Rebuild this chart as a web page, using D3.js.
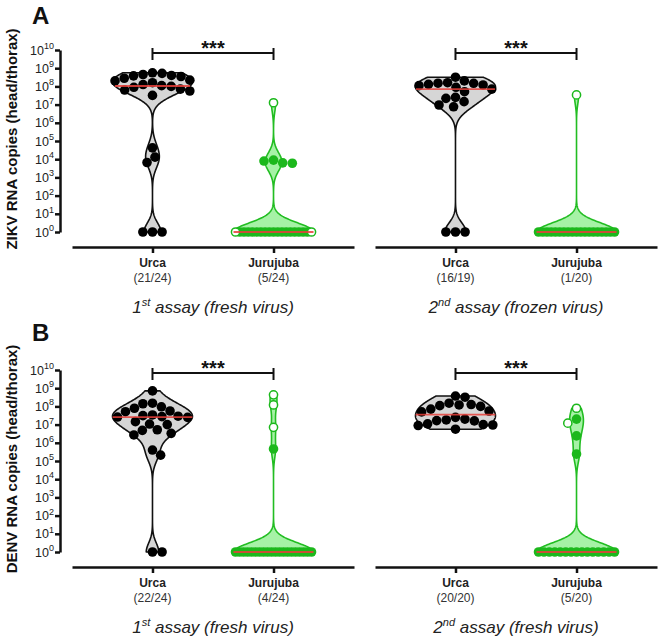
<!DOCTYPE html>
<html><head><meta charset="utf-8">
<script src="https://cdn.jsdelivr.net/npm/d3@7"></script>
<style>body{margin:0;background:#fff;} svg{display:block;font-family:"Liberation Sans",Arial,sans-serif;}</style>
</head><body><svg id="c" width="660" height="640"></svg>
<script>
// ---------- DATA ----------
const categories = ["Urca", "Jurujuba"];
const panelLetters = ["A", "B"];
const yTitles = ["ZIKV RNA copies (head/thorax)", "DENV RNA copies (head/thorax)"];
const assayOrdinals = [["1", "st"], ["2", "nd"], ["1", "st"], ["2", "nd"]];
const assayTexts = [" assay (fresh virus)", " assay (frozen virus)", " assay (fresh virus)", " assay (fresh virus)"];
const positiveCounts = [["(21/24)", "(5/24)"], ["(16/19)", "(1/20)"], ["(22/24)", "(4/24)"], ["(20/20)", "(5/20)"]];
const tickValues = [1, 1e1, 1e2, 1e3, 1e4, 1e5, 1e6, 1e7, 1e8, 1e9, 1e10];
const tickExponents = [0, 1, 2, 3, 4, 5, 6, 7, 8, 9, 10];
const significance = ["***", "***", "***", "***"];

// ZIKV, 1st assay (fresh virus)
const zikvFreshUrcaFilled = [5.6e8, 5.2e8, 4.5e8, 4.0e8, 3.8e8, 3.5e8, 2.8e8, 2.2e8, 2.0e8, 1.6e8, 1.26e8, 1.1e8, 1.0e8, 8.9e7, 7.1e7, 6.3e7, 5.6e7, 3.2e7, 4.2e4, 1.3e4, 6.6e3, 1, 1, 1];
const zikvFreshUrcaOpen = [];
const zikvFreshJuruFilled = [8.9e3, 7.9e3, 6.3e3, 6.0e3, 1, 1, 1, 1, 1, 1, 1, 1, 1, 1, 1, 1, 1, 1, 1, 1, 1];
const zikvFreshJuruOpen = [1.26e7, 1, 1];
// ZIKV, 2nd assay (frozen virus)
const zikvFrozenUrcaFilled = [3.2e8, 2.0e8, 1.6e8, 1.5e8, 1.48e8, 1.3e8, 1.2e8, 1.1e8, 8.9e7, 7.1e7, 5.1e7, 2.5e7, 2.2e7, 1.45e7, 9.5e6, 7.6e6, 1, 1, 1];
const zikvFrozenUrcaOpen = [];
const zikvFrozenJuruFilled = [1, 1, 1, 1, 1, 1, 1, 1, 1, 1, 1, 1, 1, 1, 1, 1, 1, 1, 1];
const zikvFrozenJuruOpen = [3.4e7];
// DENV, 1st assay (fresh virus)
const denvFresh1UrcaFilled = [7.1e8, 1.5e8, 1.4e8, 9.5e7, 7.9e7, 5.6e7, 5.1e7, 3.4e7, 3.1e7, 2.9e7, 2.75e7, 2.6e7, 2.5e7, 1.45e7, 1.07e7, 1.0e7, 5.2e6, 4.8e6, 3.3e6, 2.7e6, 4.0e5, 2.1e5, 1, 1];
const denvFresh1UrcaOpen = [];
const denvFresh1JuruFilled = [4.6e5, 1, 1, 1, 1, 1, 1, 1, 1, 1, 1, 1, 1, 1, 1, 1, 1, 1, 1, 1, 1];
const denvFresh1JuruOpen = [4.3e8, 1.2e8, 7.1e6];
// DENV, 2nd assay (fresh virus)
const denvFresh2UrcaFilled = [3.7e8, 3.2e8, 1.5e8, 1.26e8, 1.2e8, 1.1e8, 1.0e8, 7.1e7, 5.6e7, 5.0e7, 2.5e7, 2.0e7, 1.8e7, 1.66e7, 1.6e7, 1.1e7, 1.0e7, 9.5e6, 8.9e6, 5.6e6];
const denvFresh2UrcaOpen = [];
const denvFresh2JuruFilled = [2.0e7, 2.4e6, 2.4e5, 1, 1, 1, 1, 1, 1, 1, 1, 1, 1, 1, 1, 1, 1, 1];
const denvFresh2JuruOpen = [7.9e7, 1.2e7];

const panels = [
  [[zikvFreshUrcaFilled, zikvFreshUrcaOpen], [zikvFreshJuruFilled, zikvFreshJuruOpen]],
  [[zikvFrozenUrcaFilled, zikvFrozenUrcaOpen], [zikvFrozenJuruFilled, zikvFrozenJuruOpen]],
  [[denvFresh1UrcaFilled, denvFresh1UrcaOpen], [denvFresh1JuruFilled, denvFresh1JuruOpen]],
  [[denvFresh2UrcaFilled, denvFresh2UrcaOpen], [denvFresh2JuruFilled, denvFresh2JuruOpen]]
];

// ---------- STYLE / LAYOUT ----------
const svg = d3.select("#c");
const colStarts = [72, 375];
const rowTops = [50, 370];     // y of 10^10
const rowBottoms = [232, 552]; // y of 10^0
const rowAxis = [247, 567];
const titleCenters = [139, 459];
const styles = [
  { fill: "#d6d6d6", stroke: "#111", dot: "#000" },
  { fill: "#a6f2a6", stroke: "#22bd22", dot: "#1cb81c" }
];
const R = 4.8, HALF = 40, BW = 0.5;

function swarm(points, r) {
  const placed = [];
  points.sort((a, b) => a.y - b.y);
  let flip = -1;
  for (const p of points) {
    const cands = [0];
    for (const q of placed) {
      const dy = Math.abs(p.y - q.y);
      if (dy < 2 * r) {
        const dx = Math.sqrt(4 * r * r - dy * dy);
        cands.push(q.dx + dx, q.dx - dx);
      }
    }
    cands.sort((a, b) => Math.abs(a) - Math.abs(b) || (flip * (b - a)));
    flip = -flip;
    for (const c of cands) {
      if (placed.every(q => (c - q.dx) ** 2 + (p.y - q.y) ** 2 >= 4 * r * r - 0.5)) {
        p.dx = c; placed.push(p); break;
      }
    }
  }
  return placed;
}

panels.forEach((groups, pi) => {
  const row = Math.floor(pi / 2), col = pi % 2;
  const y = d3.scaleLog().domain([1, 1e10]).range([rowBottoms[row], rowTops[row]]);
  const x = d3.scalePoint().domain(categories).range([colStarts[col], colStarts[col] + 282]).padding(0.665);
  const g = svg.append("g");

  // x axis
  const xa = g.append("g").attr("transform", `translate(0,${rowAxis[row]})`)
    .call(d3.axisBottom(x).tickSize(6).tickSizeOuter(0).tickFormat(""));
  xa.selectAll("path,line").attr("stroke", "#111").attr("stroke-width", 2.5);

  // category labels
  categories.forEach((c, ci) => {
    g.append("text").attr("x", x(c)).attr("y", rowAxis[row] + 20).attr("text-anchor", "middle")
      .attr("font-size", 12).attr("font-weight", "bold").attr("fill", "#222").text(c);
    g.append("text").attr("x", x(c)).attr("y", rowAxis[row] + 35).attr("text-anchor", "middle")
      .attr("font-size", 12).attr("fill", "#333").text(positiveCounts[pi][ci]);
  });
  // assay label
  const mid = (x(categories[0]) + x(categories[1])) / 2;
  const at = g.append("text").attr("x", mid).attr("y", rowAxis[row] + 66).attr("text-anchor", "middle")
    .attr("font-size", 17).attr("font-style", "italic").attr("fill", "#222");
  at.append("tspan").text(assayOrdinals[pi][0]);
  at.append("tspan").attr("font-size", 11).attr("dy", -7).text(assayOrdinals[pi][1]);
  at.append("tspan").attr("dy", 7).text(assayTexts[pi]);

  // y axis (only left column)
  if (col === 0) {
    const ya = g.append("g").attr("transform", "translate(60,0)")
      .call(d3.axisLeft(y).tickValues(tickValues).tickSize(5).tickSizeOuter(0).tickFormat(""));
    ya.selectAll("path,line").attr("stroke", "#111").attr("stroke-width", 2.5);
    tickValues.forEach((v, i) => {
      const t = g.append("text").attr("x", 54).attr("y", y(v) + 4.5).attr("text-anchor", "end")
        .attr("font-size", 12.5).attr("fill", "#222");
      t.append("tspan").text("10");
      t.append("tspan").attr("font-size", 9).attr("dy", -5.5).text(tickExponents[i]);
    });
    g.append("text").attr("transform", `translate(17,${titleCenters[row]}) rotate(-90)`).attr("text-anchor", "middle")
      .attr("font-size", 15).attr("font-weight", "bold").attr("fill", "#111").text(yTitles[row]);
    g.append("text").attr("x", 32).attr("y", row === 0 ? 24 : 341).attr("font-size", 24)
      .attr("font-weight", "bold").attr("fill", "#111").text(panelLetters[row]);
  }

  // significance bar
  const sy = rowTops[row] + 3;
  const sg = g.append("g").attr("stroke", "#111").attr("stroke-width", 2);
  sg.append("line").attr("x1", x(categories[0])).attr("x2", x(categories[1])).attr("y1", sy).attr("y2", sy);
  categories.forEach(c => sg.append("line").attr("x1", x(c)).attr("x2", x(c)).attr("y1", sy - 5).attr("y2", sy + 7));
  g.append("text").attr("x", mid).attr("y", sy + 2).attr("text-anchor", "middle").attr("font-size", 20)
    .attr("font-weight", "bold").attr("fill", "#111").text(significance[pi]);

  // violins + points
  groups.forEach(([filled, open], ci) => {
    const st = styles[ci];
    const cx = x(categories[ci]);
    const all = filled.concat(open);
    const logs = all.map(v => Math.log10(v));
    const lo = d3.min(logs), hi = d3.max(logs);
    const n = 240;
    const grid = d3.range(n + 1).map(i => lo + (hi - lo) * i / n);
    const dens = grid.map(gv => d3.sum(logs, l => Math.exp(-0.5 * ((gv - l) / BW) ** 2)));
    const dmax = d3.max(dens);
    const pts = grid.map((gv, i) => ({ v: gv, w: dens[i] / dmax * HALF }));
    const area = d3.area().y(d => y(Math.pow(10, d.v))).x0(d => cx - d.w).x1(d => cx + d.w);
    g.append("path").datum(pts).attr("d", area).attr("fill", st.fill).attr("stroke", st.stroke)
      .attr("stroke-width", 1.6).attr("stroke-linejoin", "round");

    // points
    const items = filled.map(v => ({ v, open: false })).concat(open.map(v => ({ v, open: true })));
    items.forEach(d => d.y = y(d.v));
    const counts = d3.rollup(items, a => a.length, d => d.v);
    const rowItems = items.filter(d => counts.get(d.v) >= 6);
    const swarmItems = items.filter(d => counts.get(d.v) < 6);
    swarm(swarmItems, R);
    d3.group(rowItems, d => d.v).forEach(arr => {
      const op = arr.filter(d => d.open), fi = arr.filter(d => !d.open);
      const ordered = [];
      const half = Math.ceil(op.length / 2);
      ordered.push(...op.slice(0, half), ...fi, ...op.slice(half));
      const span = HALF - 2;
      ordered.forEach((d, i) => d.dx = -span + 2 * span * i / (ordered.length - 1));
    });
    const drawn = swarmItems.concat(rowItems).sort((a, b) => a.open - b.open);
    g.selectAll(null).data(drawn).join("circle")
      .attr("cx", d => cx + d.dx).attr("cy", d => d.y).attr("r", d => d.open ? R - 0.7 : R)
      .attr("fill", d => d.open ? "#fff" : st.dot)
      .attr("stroke", d => d.open ? st.dot : "none").attr("stroke-width", 1.5);

    // median line
    const med = d3.median(logs);
    const mi = Math.max(0, Math.min(n, Math.round((med - lo) / ((hi - lo) || 1) * n)));
    const mw = hi > lo ? pts[mi].w : HALF;
    g.append("line").attr("x1", cx - mw).attr("x2", cx + mw).attr("y1", y(Math.pow(10, med))).attr("y2", y(Math.pow(10, med)))
      .attr("stroke", "#e8403a").attr("stroke-width", 1.8).attr("opacity", 0.85);
  });
});
</script></body></html>
